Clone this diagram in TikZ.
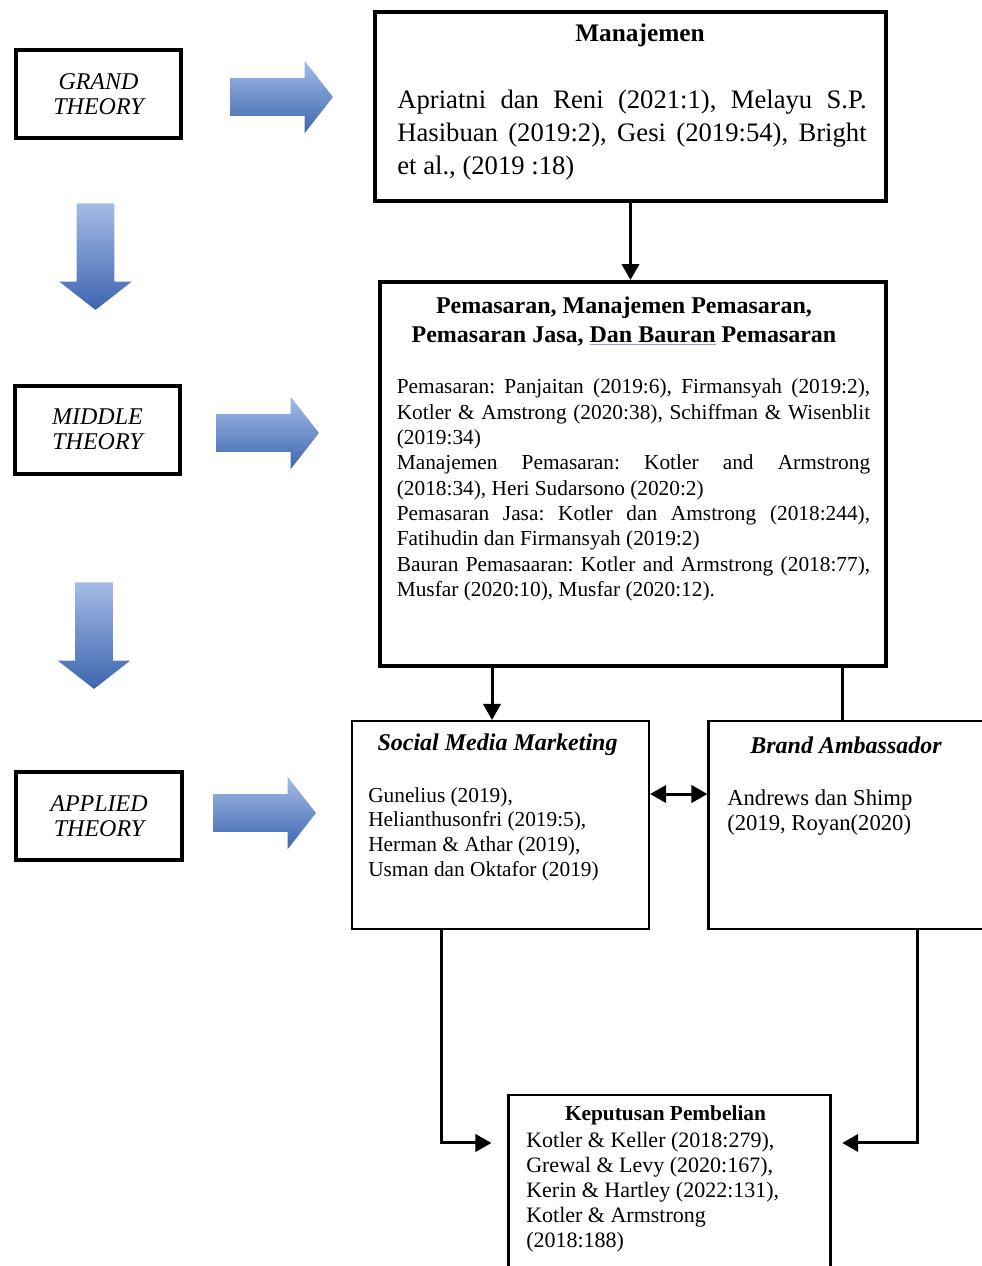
\documentclass[tikz,border=0pt]{standalone}
\usepackage{fontspec}
\setmainfont{Liberation Serif}
\usetikzlibrary{arrows.meta,shapes.arrows}
\frenchspacing

\definecolor{arrowlight}{HTML}{A4BCE6}
\definecolor{arrowmid}{HTML}{4472C4}
\definecolor{arrowdark}{HTML}{3D65AF}
\definecolor{spellblue}{HTML}{7FA3E6}
\newcommand{\spellmark}[1]{{\color{spellblue}\underline{\color{black}#1}}}

\begin{document}
\begin{tikzpicture}[x=0.75pt, y=-0.75pt,
        theorybox/.style={rectangle, draw=black, line width=3pt, minimum width=124pt, minimum height=66pt, inner sep=0pt, align=center, font=\fontsize{18}{18.5}\selectfont\itshape},
        mainbox/.style={rectangle, draw=black, line width=3pt, inner sep=0pt},
        subbox/.style={rectangle, draw=black, line width=1.6pt, inner sep=0pt},
        blockright/.style={single arrow, draw=none, inner xsep=0pt, inner ysep=13.9pt, anchor=tail, minimum height=77pt, single arrow head extend=13.1pt, single arrow tip angle=104, top color=arrowlight, middle color=arrowmid, bottom color=arrowdark},
        blockdown/.style={blockright, minimum height=80pt, rotate=-90},
        conn/.style={line width=2.25pt, black},
        tip/.style={-{Triangle[length=12pt,width=13pt]}},
        ]
                \useasboundingbox (0,0) rectangle (981,1266);

                % theory levels
                \node[theorybox] (grand)   at (98.5,94)   {GRAND\\THEORY};
                \node[theorybox] (middle)  at (97.5,429.5) {MIDDLE\\THEORY};
                \node[theorybox] (applied) at (99,816)    {APPLIED\\THEORY};

                \node[blockright] (g-arrow) at (230,97)  {};
                \node[blockright] (m-arrow) at (216,433) {};
                \node[blockright] (a-arrow) at (213,813) {};
                \node[blockdown]  (gm-arrow) at (95.5,203) {};
                \node[blockdown]  (ma-arrow) at (94,582)   {};

                % boxes
                \node[mainbox, minimum width=383pt, minimum height=141.75pt] (mgmt) at (630.5,106.5) {};
                \node[mainbox, minimum width=379.5pt, minimum height=288pt] (mktg) at (633,474) {};
                \node[subbox, minimum width=222.75pt, minimum height=156pt] (smm) at (500.5,825) {};
                \node[subbox, minimum width=222.75pt, minimum height=156pt] (ba) at (857,825) {};
                \node[subbox, minimum width=241.5pt, minimum height=153.75pt] (kp) at (669.5,1197.5) {};

                % texts
                \node[font=\fontsize{19}{22}\selectfont\bfseries] (mgmt-title) at (640,35) {Manajemen};
                \node[text width=352pt, align=justify, inner sep=0pt, font=\fontsize{20}{24.75}\selectfont] (mgmt-text) at (632,135)
                    {Apriatni dan Reni (2021:1), Melayu S.P.\linebreak
                     Hasibuan (2019:2), Gesi (2019:54), Bright\linebreak
                     et al., (2019 :18)};

                \node[align=center, font=\fontsize{18}{21.75}\selectfont\bfseries] (mktg-title) at (624,321.5)
                    {Pemasaran, Manajemen Pemasaran,\\ Pemasaran Jasa, \spellmark{Dan Bauran} Pemasaran};
                \node[text width=355pt, align=justify, inner sep=0pt, font=\fontsize{16}{19}\selectfont] (mktg-text) at (633.5,490)
                    {Pemasaran: Panjaitan (2019:6), Firmansyah (2019:2),\linebreak
                     Kotler \& Amstrong (2020:38), Schiffman \& Wisenblit\linebreak
                     (2019:34)\\
                     Manajemen Pemasaran: Kotler and Armstrong\linebreak
                     (2018:34), Heri Sudarsono (2020:2)\\
                     Pemasaran Jasa: Kotler dan Amstrong (2018:244),\linebreak
                     Fatihudin dan Firmansyah (2019:2)\\
                     Bauran Pemasaaran: Kotler and Armstrong (2018:77),\linebreak
                     Musfar (2020:10), Musfar (2020:12).};

                \node[font=\fontsize{18}{21}\selectfont\bfseries\itshape] (smm-title) at (497.5,745) {Social Media Marketing};
                \node[anchor=west, align=left, inner sep=0pt, font=\fontsize{16}{18.5}\selectfont] (smm-text) at (368,834)
                    {Gunelius (2019),\\ Helianthusonfri (2019:5),\\ Herman \& Athar (2019),\\ Usman dan Oktafor (2019)};

                \node[font=\fontsize{18}{21}\selectfont\bfseries\itshape] (ba-title) at (846,745) {Brand Ambassador};
                \node[anchor=west, align=left, inner sep=0pt, font=\fontsize{17}{18.75}\selectfont] (ba-text) at (727,812.5)
                    {Andrews dan Shimp\\ (2019, Royan(2020)};

                \node[font=\fontsize{16}{18}\selectfont\bfseries] (kp-title) at (665.5,1115) {Keputusan Pembelian};
                \node[anchor=west, align=left, inner sep=0pt, font=\fontsize{16.5}{18.75}\selectfont] (kp-text) at (526,1192)
                    {Kotler \& Keller (2018:279),\\ Grewal \& Levy (2020:167),\\ Kerin \& Hartley (2022:131),\\ Kotler \& Armstrong\\ (2018:188)};

                % connectors
                \coordinate (mktg-l) at (492,666);
                \coordinate (mktg-r) at (842,666);
                \coordinate (smm-out) at (441,929);
                \coordinate (ba-out) at (917,929);

                \draw[conn, tip] (mgmt.south) -- (mgmt.south |- mktg.north);
                \draw[conn, tip] (mktg-l) -- (mktg-l |- smm.north);
                \draw[conn] (mktg-r) -- (mktg-r |- ba.north);
                \draw[conn, {Triangle[length=12pt,width=13pt]}-{Triangle[length=12pt,width=13pt]}] ([yshift=23.25pt]smm.east) -- ([yshift=23.25pt]ba.west);
                \draw[conn, tip] (smm-out) |- ([xshift=-12pt,yshift=40.9pt]kp.west);
                \draw[conn, tip] (ba-out) |- ([xshift=8pt,yshift=40.9pt]kp.east);

            \end{tikzpicture}
\end{document}
